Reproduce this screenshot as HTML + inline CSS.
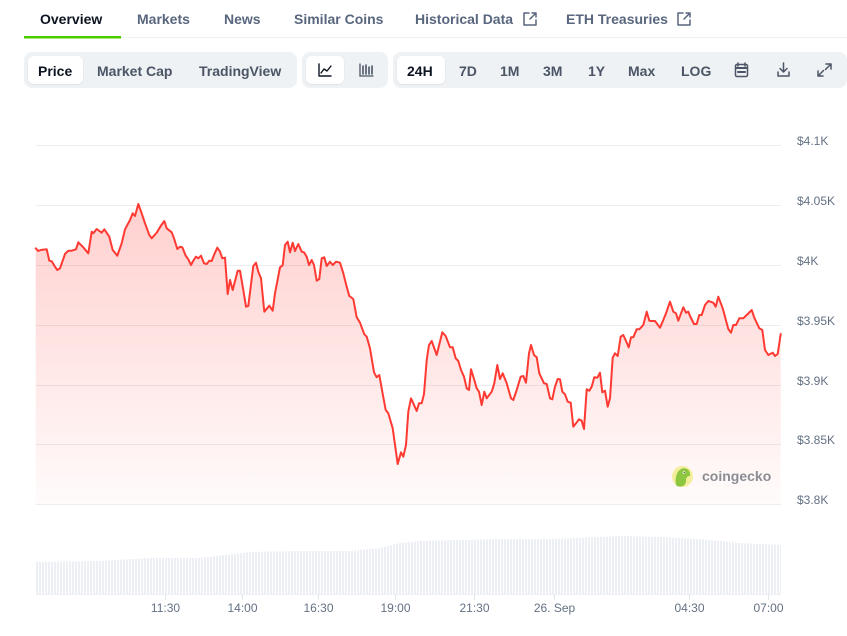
<!DOCTYPE html>
<html><head><meta charset="utf-8"><style>
html,body{margin:0;padding:0;background:#fff;}
body{width:847px;height:636px;overflow:hidden;font-family:"Liberation Sans",sans-serif;}
svg{display:block;}
</style></head><body>
<svg width="847" height="636" viewBox="0 0 847 636" xmlns="http://www.w3.org/2000/svg" font-family="Liberation Sans, sans-serif">
<defs>
<linearGradient id="fg" gradientUnits="userSpaceOnUse" x1="0" y1="200" x2="0" y2="504">
<stop offset="0" stop-color="#ff3a33" stop-opacity="0.24"/>
<stop offset="1" stop-color="#ff3a33" stop-opacity="0.02"/>
</linearGradient>
<pattern id="vb" patternUnits="userSpaceOnUse" x="36" y="0" width="3" height="636">
<rect x="0" y="0" width="2" height="636" fill="#eceff3"/>
</pattern>
<filter id="sh" x="-10%" y="-20%" width="120%" height="140%"><feDropShadow dx="0" dy="0.5" stdDeviation="0.6" flood-color="#000" flood-opacity="0.12"/></filter>
</defs>

<!-- Tabs -->
<line x1="24" y1="37.5" x2="847" y2="37.5" stroke="#eff2f5" stroke-width="1"/>
<rect x="24" y="36" width="97" height="2.5" fill="#4bcc00"/>
<g font-size="14" font-weight="bold">
<text x="40" y="24" fill="#0d1421">Overview</text>
<text x="137" y="24" fill="#58667e">Markets</text>
<text x="224" y="24" fill="#58667e">News</text>
<text x="294" y="24" fill="#58667e">Similar Coins</text>
<text x="415" y="24" fill="#58667e">Historical Data</text>
<text x="566" y="24" fill="#58667e">ETH Treasuries</text>
</g>
<g fill="none" stroke="#58667e" stroke-width="1.5" stroke-linecap="round" stroke-linejoin="round">
<path d="M529 13 H524 V25 H536 V20"/><path d="M530 19 L536 13 M532 13 H536 V17"/>
<path d="M683 13 H678 V25 H690 V20"/><path d="M684 19 L690 13 M686 13 H690 V17"/>
</g>

<!-- Button groups -->
<rect x="24" y="52" width="273" height="36" rx="8" fill="#eff2f5"/>
<rect x="302" y="52" width="86" height="36" rx="8" fill="#eff2f5"/>
<rect x="393" y="52" width="454" height="36" rx="8" fill="#eff2f5"/>
<rect x="28" y="56" width="55" height="28" rx="6" fill="#fff" filter="url(#sh)"/>
<rect x="306" y="56" width="38" height="28" rx="6" fill="#fff" filter="url(#sh)"/>
<rect x="397" y="56" width="48" height="28" rx="6" fill="#fff" filter="url(#sh)"/>
<g font-size="14" font-weight="bold">
<text x="38" y="76" fill="#0d1421">Price</text>
<text x="97" y="76" fill="#4b5565">Market Cap</text>
<text x="199" y="76" fill="#4b5565">TradingView</text>
<text x="407" y="76" fill="#0d1421">24H</text>
<text x="459" y="76" fill="#4b5565">7D</text>
<text x="500" y="76" fill="#4b5565">1M</text>
<text x="543" y="76" fill="#4b5565">3M</text>
<text x="588" y="76" fill="#4b5565">1Y</text>
<text x="628" y="76" fill="#4b5565">Max</text>
<text x="681" y="76" fill="#4b5565">LOG</text>
</g>
<!-- icons -->
<g fill="none" stroke="#0d1421" stroke-width="1.4" stroke-linecap="round" stroke-linejoin="round">
<path d="M319 64 V76 H331"/><path d="M321 73 L324 69 L327 71 L331 66"/>
</g>
<g fill="none" stroke="#4b5565" stroke-width="1.3" stroke-linecap="round">
<path d="M360 64 V76 H373"/>
<path d="M363 66 V74 M366 65 V74 M369 67 V74 M372 66 V74" stroke-width="1.6"/>
</g>
<g fill="none" stroke="#4b5565" stroke-width="1.5" stroke-linecap="round" stroke-linejoin="round">
<rect x="735.5" y="64.5" width="12" height="12" rx="1.5"/>
<path d="M738 63 V66 M745 63 V66"/>
<path d="M736 68 H747" stroke-width="2"/>
<path d="M738 72 H745" stroke-width="2"/>
<path d="M783.5 63 V72 M780 68.5 L783.5 72 L787 68.5"/>
<path d="M778 72 V76 H789 V72"/>
<path d="M826 64 L831 64 L831 69 M831 64 L825.5 69.5"/>
<path d="M818 71 L818 76 L823 76 M818 76 L823.5 70.5"/>
</g>

<!-- Grid -->
<g stroke="#ebedf0" stroke-width="1">
<line x1="36" y1="145.5" x2="781" y2="145.5"/>
<line x1="36" y1="205.5" x2="781" y2="205.5"/>
<line x1="36" y1="265.5" x2="781" y2="265.5"/>
<line x1="36" y1="325.5" x2="781" y2="325.5"/>
<line x1="36" y1="385.5" x2="781" y2="385.5"/>
<line x1="36" y1="444.5" x2="781" y2="444.5"/>
<line x1="36" y1="504.5" x2="781" y2="504.5"/>
</g>
<g font-size="12" fill="#647184">
<text x="797" y="145">$4.1K</text>
<text x="797" y="205">$4.05K</text>
<text x="797" y="265">$4K</text>
<text x="797" y="325">$3.95K</text>
<text x="797" y="385">$3.9K</text>
<text x="797" y="444">$3.85K</text>
<text x="797" y="504">$3.8K</text>
</g>

<!-- Area + line -->
<polygon fill="url(#fg)" points="35.7,248.3 38.3,251 40.7,250 46.7,249.3 49.3,260.7 51.7,261.3 55,266.7 57.3,270 60,268.3 65,254 68.3,250.7 71.7,250.7 76,249.3 78.3,242.3 82.7,246.7 88.3,253.3 91.7,231.7 93.3,233.3 96.7,229 101.7,232.7 104.3,229.3 109.3,236.7 112.7,250 117.3,255.7 121.7,243.3 125,229.3 130,220 132.7,213.3 135,216 138.3,204 141.7,213.3 145,223.3 149.3,235 151.7,238.3 156.7,232.7 160.7,226 164.3,221 166.7,228.3 171.7,232.3 174,238.3 177.3,249 180,246.7 182.3,247.3 185.7,255.7 188.3,259.3 191,265 193.3,260.7 196,256.7 198.3,258.3 201,255.7 204,263.3 206.7,264 209.3,260.7 211.7,261 214,255 217.3,247.7 220,251.7 222.3,258.3 225,257.7 227.7,294 230,280 232.7,290 237.7,270.7 240,270.7 243.3,290 246,306.7 248.3,306 253.3,266 256,262.7 258.3,271.7 261,278.3 264.3,311.7 269.3,305.7 272.7,310.7 275,293.3 280,267.3 282.7,265.3 285,245 287.7,241.7 290,252.3 292.7,242.7 295,251 298.3,244 301.7,251.7 304,252.3 306.7,256.7 309,265 311.7,260 314,265 316.7,280.7 319.3,279 321.7,258.3 324.3,257.3 326.7,266 330,261.7 332.7,265 336,261.7 340,262.7 343.3,273.3 346.7,286.7 349.3,296 353.3,299 356.7,317.3 360,322.7 364.3,334.3 366.7,336.7 370,348.3 374,372.3 376.7,377.3 379.3,375 382.3,391.7 385.7,410 388.3,413.3 392.7,428.3 397.7,464 401,452.3 403.3,456.7 406,445 408.3,411.7 411,398.3 416.7,411 419,403.3 421.7,403.3 424,394 426.7,360 429,345 431.7,341 436.7,355 442.3,332.3 445.7,336 450,347.3 452.7,347.3 455.7,358.3 458.3,361 461,370 464,376.7 466.7,388.3 469,390 471,369.3 473.3,376.7 476.7,388.3 479,391.7 481.7,405 484.3,391.7 486.7,398.3 491.7,391.7 494.3,383.3 497.3,365 500,379 502.7,373.3 506.7,383.3 511,398.3 513.3,400 516.7,390 520.7,376.7 523.3,376 526,382.7 529,353.3 531,345 534,355 536.7,357.3 539.3,373.3 544,383.3 546.7,384 550,398.3 552.3,399.3 555,386.7 557.7,379 560,379.3 562.3,391.7 565,394.3 567.7,401.7 570.7,402.7 573.3,426.7 576,423.3 579,419.3 581.7,420.7 584,429 586.7,389.3 589.3,390.7 591.7,386.7 594.3,377.3 597.3,377.7 600,372.7 602.3,392.3 605,390.7 607.7,406.7 610,398.3 612.7,357.7 615,353.3 617.7,356 620.7,336.7 623.3,335 626,341 628.7,347.3 631,337.3 633.3,337.3 636.7,329.3 639.3,329.3 643.3,325 646.7,311.7 649.3,320.7 651.7,321 655,321 660,327.7 663.3,320 666,313.3 670,301.7 673.3,311.7 676,313.3 678.3,320.7 683.3,307.3 686,312.7 688.3,311.7 690,316 694,324 696.7,324 699.3,315 701.7,315 705,305 708.3,301 713.3,302.7 715.7,306.7 718.3,296.7 722.7,308.3 728.3,329 731,332.7 733.3,325 736,325 739.3,318.3 743.3,318.3 746.7,315 751.7,310 754.3,317.7 759.3,328.3 762.3,330 765,350 768.3,355 772.7,352.7 775,356 777.7,354 780.7,334 780.7,504 35.7,504"/>
<polyline fill="none" stroke="#ff3a33" stroke-width="2" stroke-linejoin="round" stroke-linecap="round" points="35.7,248.3 38.3,251 40.7,250 46.7,249.3 49.3,260.7 51.7,261.3 55,266.7 57.3,270 60,268.3 65,254 68.3,250.7 71.7,250.7 76,249.3 78.3,242.3 82.7,246.7 88.3,253.3 91.7,231.7 93.3,233.3 96.7,229 101.7,232.7 104.3,229.3 109.3,236.7 112.7,250 117.3,255.7 121.7,243.3 125,229.3 130,220 132.7,213.3 135,216 138.3,204 141.7,213.3 145,223.3 149.3,235 151.7,238.3 156.7,232.7 160.7,226 164.3,221 166.7,228.3 171.7,232.3 174,238.3 177.3,249 180,246.7 182.3,247.3 185.7,255.7 188.3,259.3 191,265 193.3,260.7 196,256.7 198.3,258.3 201,255.7 204,263.3 206.7,264 209.3,260.7 211.7,261 214,255 217.3,247.7 220,251.7 222.3,258.3 225,257.7 227.7,294 230,280 232.7,290 237.7,270.7 240,270.7 243.3,290 246,306.7 248.3,306 253.3,266 256,262.7 258.3,271.7 261,278.3 264.3,311.7 269.3,305.7 272.7,310.7 275,293.3 280,267.3 282.7,265.3 285,245 287.7,241.7 290,252.3 292.7,242.7 295,251 298.3,244 301.7,251.7 304,252.3 306.7,256.7 309,265 311.7,260 314,265 316.7,280.7 319.3,279 321.7,258.3 324.3,257.3 326.7,266 330,261.7 332.7,265 336,261.7 340,262.7 343.3,273.3 346.7,286.7 349.3,296 353.3,299 356.7,317.3 360,322.7 364.3,334.3 366.7,336.7 370,348.3 374,372.3 376.7,377.3 379.3,375 382.3,391.7 385.7,410 388.3,413.3 392.7,428.3 397.7,464 401,452.3 403.3,456.7 406,445 408.3,411.7 411,398.3 416.7,411 419,403.3 421.7,403.3 424,394 426.7,360 429,345 431.7,341 436.7,355 442.3,332.3 445.7,336 450,347.3 452.7,347.3 455.7,358.3 458.3,361 461,370 464,376.7 466.7,388.3 469,390 471,369.3 473.3,376.7 476.7,388.3 479,391.7 481.7,405 484.3,391.7 486.7,398.3 491.7,391.7 494.3,383.3 497.3,365 500,379 502.7,373.3 506.7,383.3 511,398.3 513.3,400 516.7,390 520.7,376.7 523.3,376 526,382.7 529,353.3 531,345 534,355 536.7,357.3 539.3,373.3 544,383.3 546.7,384 550,398.3 552.3,399.3 555,386.7 557.7,379 560,379.3 562.3,391.7 565,394.3 567.7,401.7 570.7,402.7 573.3,426.7 576,423.3 579,419.3 581.7,420.7 584,429 586.7,389.3 589.3,390.7 591.7,386.7 594.3,377.3 597.3,377.7 600,372.7 602.3,392.3 605,390.7 607.7,406.7 610,398.3 612.7,357.7 615,353.3 617.7,356 620.7,336.7 623.3,335 626,341 628.7,347.3 631,337.3 633.3,337.3 636.7,329.3 639.3,329.3 643.3,325 646.7,311.7 649.3,320.7 651.7,321 655,321 660,327.7 663.3,320 666,313.3 670,301.7 673.3,311.7 676,313.3 678.3,320.7 683.3,307.3 686,312.7 688.3,311.7 690,316 694,324 696.7,324 699.3,315 701.7,315 705,305 708.3,301 713.3,302.7 715.7,306.7 718.3,296.7 722.7,308.3 728.3,329 731,332.7 733.3,325 736,325 739.3,318.3 743.3,318.3 746.7,315 751.7,310 754.3,317.7 759.3,328.3 762.3,330 765,350 768.3,355 772.7,352.7 775,356 777.7,354 780.7,334"/>

<!-- Watermark -->
<circle cx="682.5" cy="476.5" r="10.5" fill="#f4ee9c"/>
<path d="M676 485 C675 479 676 472 681 469 C685 467 689 469 690 473 L690 476 C687 476 686 478 686 481 C686 484 684 486 681 486.5 C679 486.8 677 486.3 676 485 Z" fill="#8dc63f"/>
<circle cx="684" cy="472.5" r="1.3" fill="#fff"/>
<circle cx="684.2" cy="472.6" r="0.6" fill="#333"/>
<text x="702" y="481" font-size="14" font-weight="bold" fill="#8a8d94">coingecko</text>

<!-- Volume -->
<polygon fill="url(#vb)" points="36,562 100,561 150,558 200,558 225,555 250,552 300,551 350,551 380,548 400,543 420,541 460,540 500,539 550,539 600,537 620,536 660,537 700,539 720,541 740,543 760,544 781,545 781,594 36,594"/>
<line x1="36" y1="594.5" x2="781" y2="594.5" stroke="#eef0f3" stroke-width="1"/>
<g stroke="#e3e7ec" stroke-width="1">
<line x1="165.5" y1="594" x2="165.5" y2="600"/>
<line x1="242.5" y1="594" x2="242.5" y2="600"/>
<line x1="318.5" y1="594" x2="318.5" y2="600"/>
<line x1="395.5" y1="594" x2="395.5" y2="600"/>
<line x1="474.5" y1="594" x2="474.5" y2="600"/>
<line x1="554.5" y1="594" x2="554.5" y2="600"/>
<line x1="689.5" y1="594" x2="689.5" y2="600"/>
<line x1="768.5" y1="594" x2="768.5" y2="600"/>
</g>
<g font-size="12" fill="#647184" text-anchor="middle">
<text x="165.5" y="612">11:30</text>
<text x="242.5" y="612">14:00</text>
<text x="318.5" y="612">16:30</text>
<text x="395.5" y="612">19:00</text>
<text x="474.5" y="612">21:30</text>
<text x="554.5" y="612">26. Sep</text>
<text x="689.5" y="612">04:30</text>
<text x="768.5" y="612">07:00</text>
</g>
</svg>
</body></html>
